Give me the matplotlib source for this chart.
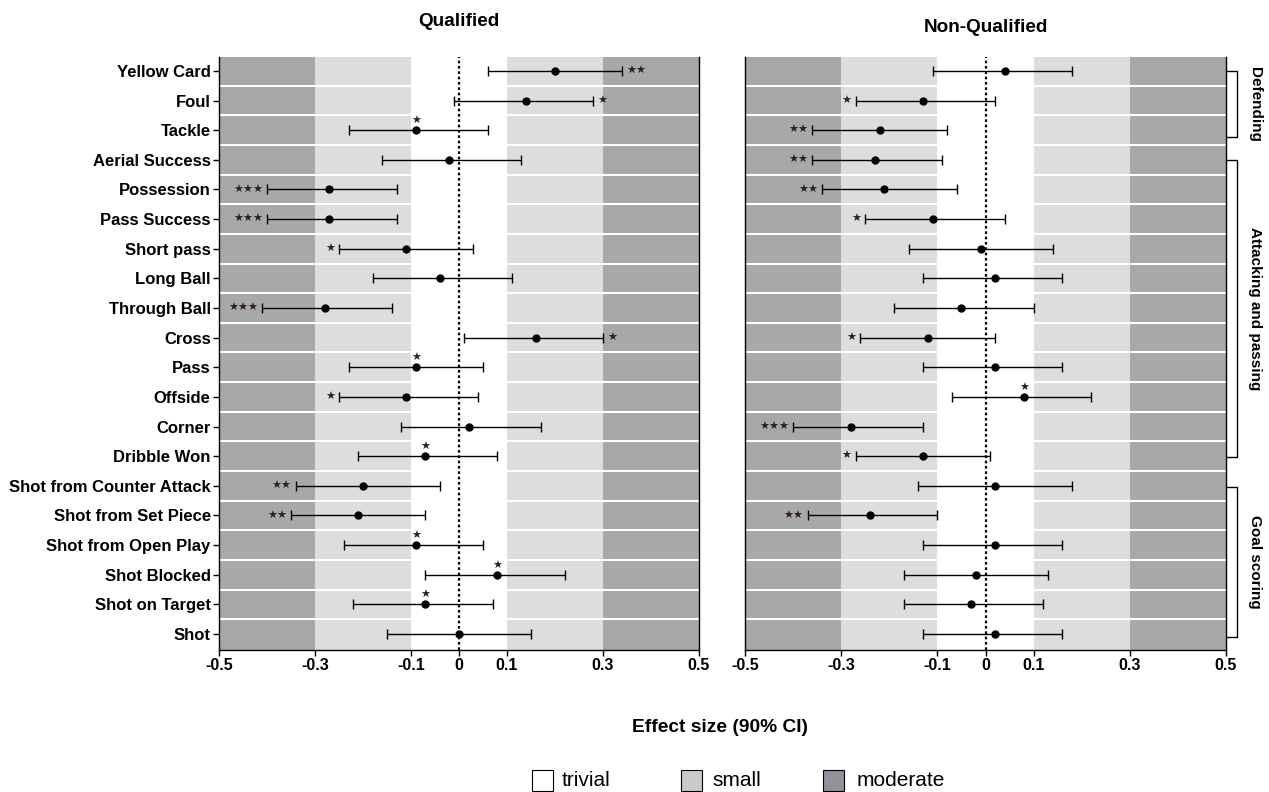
import matplotlib
matplotlib.use("Agg")
import matplotlib.pyplot as plt
from matplotlib.patches import Rectangle

plt.rcParams['font.family'] = ['Liberation Sans', 'DejaVu Sans']

categories = ["Yellow Card", "Foul", "Tackle", "Aerial Success", "Possession",
              "Pass Success", "Short pass", "Long Ball", "Through Ball", "Cross",
              "Pass", "Offside", "Corner", "Dribble Won", "Shot from Counter Attack",
              "Shot from Set Piece", "Shot from Open Play", "Shot Blocked",
              "Shot on Target", "Shot"]

# Qualified
q_est = [0.20, 0.14, -0.09, -0.02, -0.27, -0.27, -0.11, -0.04, -0.28, 0.16,
         -0.09, -0.11, 0.02, -0.07, -0.20, -0.21, -0.09, 0.08, -0.07, 0.00]
q_lo = [0.06, -0.01, -0.23, -0.16, -0.40, -0.40, -0.25, -0.18, -0.41, 0.01,
        -0.23, -0.25, -0.12, -0.21, -0.34, -0.35, -0.24, -0.07, -0.22, -0.15]
q_hi = [0.34, 0.28, 0.06, 0.13, -0.13, -0.13, 0.03, 0.11, -0.14, 0.30,
        0.05, 0.04, 0.17, 0.08, -0.04, -0.07, 0.05, 0.22, 0.07, 0.15]
q_sig = ["**", "*", "*", "", "***", "***", "*", "", "***", "*",
         "*", "*", "", "*", "**", "**", "*", "*", "*", ""]
q_sig_pos = ["right", "right", "above", "", "left", "left", "left", "", "left", "right",
             "above", "left", "", "above", "left", "left", "above", "above", "above", ""]

# Non-Qualified
n_est = [0.04, -0.13, -0.22, -0.23, -0.21, -0.11, -0.01, 0.02, -0.05, -0.12,
         0.02, 0.08, -0.28, -0.13, 0.02, -0.24, 0.02, -0.02, -0.03, 0.02]
n_lo = [-0.11, -0.27, -0.36, -0.36, -0.34, -0.25, -0.16, -0.13, -0.19, -0.26,
        -0.13, -0.07, -0.40, -0.27, -0.14, -0.37, -0.13, -0.17, -0.17, -0.13]
n_hi = [0.18, 0.02, -0.08, -0.09, -0.06, 0.04, 0.14, 0.16, 0.10, 0.02,
        0.16, 0.22, -0.13, 0.01, 0.18, -0.10, 0.16, 0.13, 0.12, 0.16]
n_sig = ["", "*", "**", "**", "**", "*", "", "", "", "*",
         "", "*", "***", "*", "", "**", "", "", "", ""]
n_sig_pos = ["", "left", "left", "left", "left", "left", "", "", "", "left",
             "", "above", "left", "left", "", "left", "", "", "", ""]

groups = ["Defending", "Attacking and passing", "Goal scoring"]
group_spans = [(0, 2.24), (3, 13.02), (14.03, 19.1)]

bands = [(-0.5, -0.3, "moderate"), (-0.3, -0.1, "small"), (-0.1, 0.1, "trivial"),
         (0.1, 0.3, "small"), (0.3, 0.5, "moderate")]
band_colors = {"trivial": "#ffffff", "small": "#dcdddf", "moderate": "#a6a8aa"}
legend_labels = ["trivial", "small", "moderate"]
legend_colors = ["#ffffff", "#c8c9cb", "#90939a"]
xticks = [-0.5, -0.3, -0.1, 0, 0.1, 0.3, 0.5]
xticklabels = ["-0.5", "-0.3", "-0.1", "0", "0.1", "0.3", "0.5"]

fig = plt.figure(figsize=(12.69, 7.92), dpi=100)
W, H = 1269, 792


def make_ax(x0, x1, y0=57, y1=650):
    return fig.add_axes([x0 / W, 1 - y1 / H, (x1 - x0) / W, (y1 - y0) / H])


axL = make_ax(219, 699)
axR = make_ax(745, 1226)

star_color = "#2e2020"


def draw(ax, est, lo, hi, sig, sigpos, show_labels, title, title_pad):
    n = len(categories)
    rows = list(range(n))
    for a, b, kind in bands:
        ax.axvspan(a, b, color=band_colors[kind], zorder=0, lw=0)
    for r in range(n - 1):
        ax.axhline(r + 0.5, color="white", lw=1.5, zorder=1)
    ax.axvline(0, color="black", ls=(0, (1.2, 1.2)), lw=1.6, zorder=2)
    ax.errorbar(est, rows, xerr=[[e - l for e, l in zip(est, lo)],
                                 [h - e for e, h in zip(est, hi)]],
                fmt="o", color="black", ms=5, elinewidth=1, capsize=3.5,
                capthick=1, zorder=3)
    for r in rows:
        s = sig[r]
        if not s:
            continue
        p = sigpos[r]
        txt = "\u2605" * len(s)
        kw = dict(textcoords="offset points", va="center", fontsize=8,
                  color=star_color, family="DejaVu Sans", zorder=4)
        if p == "left":
            ax.annotate(txt, (lo[r], r), xytext=(-3, 0), ha="right", **kw)
        elif p == "right":
            ax.annotate(txt, (hi[r], r), xytext=(3, 0), ha="left", **kw)
        else:
            ax.annotate(txt, (est[r], r), xytext=(0, 6.5), ha="center", **kw)
    ax.set_xlim(-0.5, 0.5)
    ax.set_ylim(19.54, -0.47)
    ax.set_xticks(xticks)
    ax.set_xticklabels(xticklabels, fontsize=11.5, fontweight="bold")
    ax.tick_params(axis="x", length=4, width=1, pad=2)
    ax.set_yticks(rows)
    if show_labels:
        ax.set_yticklabels(categories, fontsize=12, fontweight="bold")
        ax.tick_params(axis="y", length=4, width=1, pad=2)
    else:
        ax.set_yticklabels([])
        ax.tick_params(axis="y", length=0)
    for sp in ["left", "bottom", "right"]:
        ax.spines[sp].set_color("black")
        ax.spines[sp].set_linewidth(1)
    ax.spines["top"].set_visible(False)
    ax.set_title(title, fontsize=13.7, fontweight="bold", pad=title_pad)


draw(axL, q_est, q_lo, q_hi, q_sig, q_sig_pos, True, "Qualified", 22)
draw(axR, n_est, n_lo, n_hi, n_sig, n_sig_pos, False, "Non-Qualified", 18)

# group brackets on the right
for g, (a, b) in zip(groups, group_spans):
    axR.plot([1.0, 1.022, 1.022, 1.0], [a, a, b, b], color="black", lw=1,
             transform=axR.get_yaxis_transform(), clip_on=False)
    axR.text(1.06, (a + b) / 2, g, rotation=-90, ha="center", va="center",
             fontsize=11, fontweight="bold", transform=axR.get_yaxis_transform())

fig.text(720 / W, 1 - 727 / H, "Effect size (90% CI)", ha="center", va="center",
         fontsize=13.8, fontweight="bold")

# legend
leg_x = [532, 681, 823]
txt_x = [562, 712, 857]
for lab, col, bx, tx in zip(legend_labels, legend_colors, leg_x, txt_x):
    fig.patches.append(Rectangle((bx / W, 1 - 791 / H), 21 / W, 21 / H,
                                 transform=fig.transFigure, facecolor=col,
                                 edgecolor="black", lw=0.8))
    fig.text(tx / W, 1 - 781 / H, lab, ha="left", va="center", fontsize=15)

fig.savefig("out.png", dpi=100)
